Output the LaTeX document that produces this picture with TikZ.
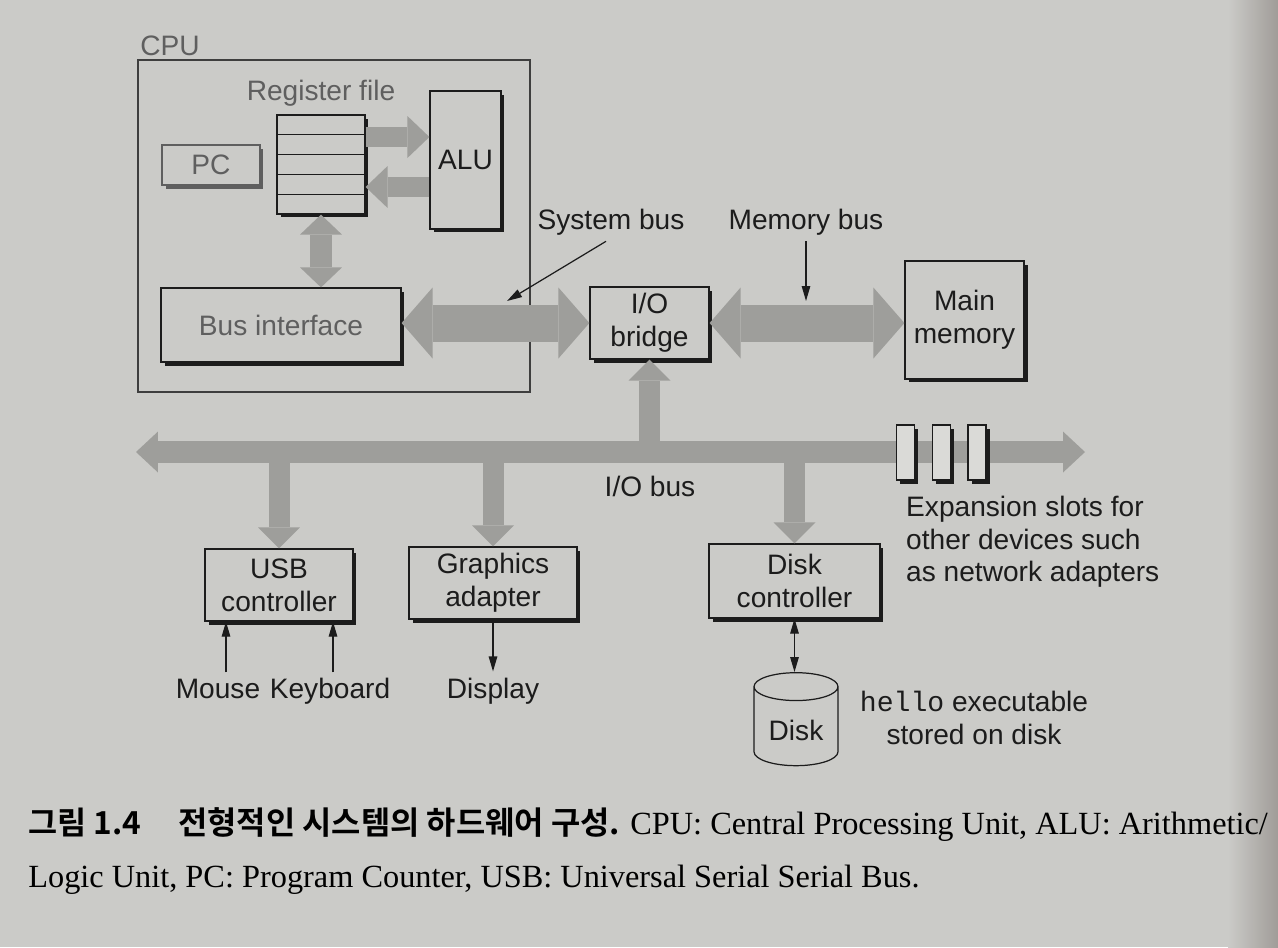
\documentclass[tikz,border=0pt]{standalone}
\usepackage{fontspec}
\setmainfont{Liberation Serif}
\setsansfont{Liberation Sans}
\setmonofont{Liberation Mono}
\newfontfamily\kofont{Noto Sans CJK KR Bold}
\definecolor{Paper}{RGB}{203,203,200}
\definecolor{PaperEdge}{RGB}{160,156,152}
\definecolor{BusGray}{RGB}{158,158,155}
\definecolor{Ink}{RGB}{28,28,28}
\definecolor{FadeInk}{RGB}{95,95,95}
\definecolor{SlotFill}{RGB}{218,218,215}
\usetikzlibrary{arrows.meta, positioning, calc, shapes.geometric, shadows}
\newcommand\diagfont{\sffamily\fontsize{16}{18.6}\selectfont}
\newcommand\capfont{\rmfamily\fontsize{18.4}{21}\selectfont}

\begin{document}
\begin{tikzpicture}[
  x=0.02cm, y=-0.02cm,
  box/.style={draw=Ink, fill=Paper, line width=0.7pt, inner sep=0pt,
              align=center, font=\diagfont, text=Ink,
              drop shadow={shadow xshift=0.07cm, shadow yshift=-0.07cm,
                           fill=Ink, opacity=1}},
  fadebox/.style={box, draw=FadeInk, text=FadeInk,
              drop shadow={shadow xshift=0.07cm, shadow yshift=-0.07cm,
                           fill=FadeInk, opacity=1}},
  lbl/.style={font=\diagfont, text=Ink, align=center},
  fadelbl/.style={lbl, text=FadeInk},
  slot/.style={box, fill=SlotFill, minimum width=0.36cm, minimum height=1.1cm},
  ptr/.style={draw=Ink, line width=0.7pt, -{Triangle[width=0.17cm,length=0.3cm]}},
  cpuflow/.style={draw=BusGray, line width=0.4cm, line cap=butt,
                  -{Triangle[width=0.84cm, length=0.44cm, line width=0pt]}},
  cpuboth/.style={draw=BusGray, line width=0.44cm, line cap=butt,
                  {Triangle[width=0.84cm, length=0.4cm, line width=0pt]}-{Triangle[width=0.84cm, length=0.4cm, line width=0pt]}},
  sysbus/.style={draw=BusGray, line width=0.74cm, line cap=butt,
                 {Triangle[width=1.42cm, length=0.62cm, line width=0pt]}-{Triangle[width=1.42cm, length=0.62cm, line width=0pt]}},
  iobus/.style={draw=BusGray, line width=0.44cm, line cap=butt,
                {Triangle[width=0.82cm, length=0.44cm, line width=0pt]}-{Triangle[width=0.82cm, length=0.44cm, line width=0pt]}},
  iobranch/.style={draw=BusGray, line width=0.42cm, line cap=butt,
                   -{Triangle[width=0.84cm, length=0.42cm, line width=0pt]}},
]
\useasboundingbox (0,0) rectangle (1278,947);
\fill[Paper] (0,0) rectangle (1278,947);
\shade[left color=Paper, right color=PaperEdge] (1228,0) rectangle (1278,947);

% CPU
\node[draw=Ink!85, line width=1.3pt, minimum width=7.84cm, minimum height=6.64cm] (cpu) at (334,226) {};
\node[fadelbl] (cpulbl) at (170,46) {CPU};
\node[fadelbl] (reglbl) at (321,93) {Register file};
\node[box, minimum width=1.76cm, minimum height=1.98cm] (reg) at (321,164.5) {};
\foreach \r in {1,...,4}
  \draw[Ink, line width=0.6pt] ($(reg.north west)!\r/5!(reg.south west)$) -- ($(reg.north east)!\r/5!(reg.south east)$);
\node[fadebox, minimum width=1.96cm, minimum height=0.8cm] (pc) at (211,165) {PC};
\node[box, minimum width=1.42cm, minimum height=2.76cm] (alu) at (465.5,160) {ALU};
\node[box, text=FadeInk, minimum width=4.8cm, minimum height=1.48cm] (busif) at (281,325) {Bus interface};

\draw[cpuflow] ([yshift=0.55cm]reg.east) -- ([yshift=0.55cm]reg.east -| alu.west);
\draw[cpuflow] ([yshift=-0.45cm]reg.east -| alu.west) -- ([yshift=-0.45cm]reg.east);
\draw[cpuboth] (reg.south) -- (reg.south |- busif.north);

% bridge and memory
\node[box, minimum width=2.38cm, minimum height=1.44cm] (bridge) at (649.5,323) {I/O\\bridge};
\node[box, minimum width=2.38cm, minimum height=2.36cm] (mainmem) at (964.5,320) {Main\\memory};
\draw[sysbus] (bridge.west -| busif.east) -- (bridge.west);
\draw[sysbus] (bridge.east) -- (bridge.east -| mainmem.west);

\node[lbl] (syslbl) at (611,222) {System bus};
\node[lbl] (memlbl) at (806,222) {Memory bus};
\coordinate (systip) at (507,301);
\draw[ptr] ([xshift=-0.1cm]syslbl.south) -- (systip);
\draw[ptr] (memlbl.south) -- (memlbl.south |- systip);

% I/O bus
\coordinate (ioL) at (136,452);
\coordinate (ioR) at (1085,452);
\node[box, minimum width=2.96cm, minimum height=1.44cm] (usb) at (279,585) {USB\\controller};
\node[box, minimum width=3.36cm, minimum height=1.44cm] (gfx) at (493,583) {Graphics\\adapter};
\node[box, minimum width=3.42cm, minimum height=1.48cm] (diskctl) at (794.5,581) {Disk\\controller};
\draw[iobranch] (bridge.south |- ioL) -- (bridge.south);
\foreach \dev in {usb,gfx,diskctl}
  \draw[iobranch] (\dev.north |- ioL) -- (\dev.north);
\draw[iobus] (ioL) -- (ioR);
\foreach \s/\x in {1/905.5,2/941.5,3/977}
  \node[slot] (slot\s) at (\x,452.5) {};
\node[lbl] (iolbl) at (650,486) {I/O bus};
\node[lbl, align=left, anchor=west] (explbl) at (900,542) {Expansion slots for\\other devices such\\as network adapters};

% devices
\node[lbl, anchor=base] (mouse) at (218,698) {Mouse};
\node[lbl, anchor=base] (kbd) at (330,698) {Keyboard};
\node[lbl, anchor=base] (disp) at (493,698) {Display};
\draw[ptr] ([xshift=0.16cm]mouse.north) -- ([xshift=0.16cm]mouse.north |- usb.south);
\draw[ptr] ([xshift=0.06cm]mouse.north -| kbd.north) -- ([xshift=0.06cm]kbd.north |- usb.south);
\draw[ptr] (disp.north |- gfx.south) -- (disp.north);
\node[cylinder, shape border rotate=90, aspect=0.42, draw=Ink, fill=Paper, line width=0.7pt,
      minimum width=1.68cm, minimum height=1.86cm, font=\diagfont, text=Ink] (disk) at (796,730) {\\[4pt]Disk};
\draw[draw=Ink, line width=0.7pt, {Triangle[width=0.17cm,length=0.3cm]}-{Triangle[width=0.17cm,length=0.3cm]}] (diskctl.south) -- (disk.north -| diskctl.south);
\node[lbl] (hellolbl) at (974,718) {\texttt{hello} executable\\stored on disk};

% caption
\node[anchor=base west, inner sep=0pt, font=\kofont\fontsize{18}{21}\selectfont] (figno) at (28,834) {그림 1.4};
\node[anchor=base west, inner sep=0pt, font=\kofont\fontsize{18.1}{21}\selectfont] (figtitle) at (178,834) {전형적인 시스템의 하드웨어 구성.};
\node[anchor=base west, inner sep=0pt, font=\capfont] (figtext) at (630,834) {CPU: Central Processing Unit, ALU: Arithmetic/};
\node[anchor=base west, inner sep=0pt, font=\capfont] (figtext2) at (28,887) {Logic Unit, PC: Program Counter, USB: Universal Serial Serial Bus.};
\end{tikzpicture}
\end{document}
